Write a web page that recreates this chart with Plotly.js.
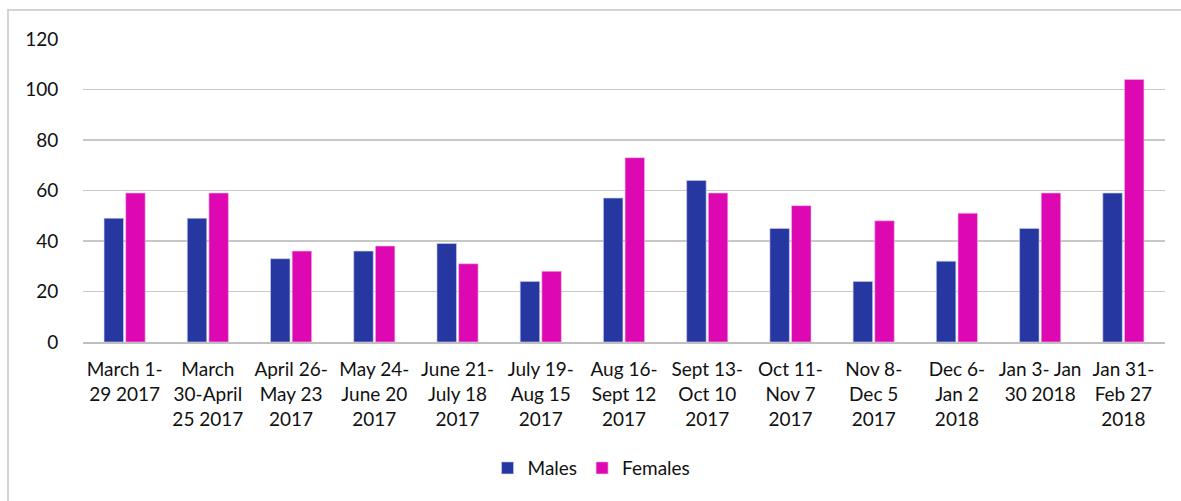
<!DOCTYPE html>
<html>
<head>
<meta charset="utf-8">
<script src="https://cdn.plot.ly/plotly-3.0.1.min.js"></script>
<style>
html,body{margin:0;padding:0;background:#fff;}
#wrap{position:relative;width:1181px;height:501px;}
#chart{position:absolute;left:0;top:0;width:1181px;height:501px;}
#frame{position:absolute;left:7px;top:9px;width:1174px;height:492px;border-left:2px solid #d4d4d4;border-top:2px solid #d4d4d4;pointer-events:none;}
</style>
</head>
<body>
<div id="wrap"><div id="chart"></div><div id="frame"></div></div>
<script>
const categories = [
  "March 1-<br>29 2017",
  "March<br>30-April<br>25 2017",
  "April 26-<br>May 23<br>2017",
  "May 24-<br>June 20<br>2017",
  "June 21-<br>July 18<br>2017",
  "July 19-<br>Aug 15<br>2017",
  "Aug 16-<br>Sept 12<br>2017",
  "Sept 13-<br>Oct 10<br>2017",
  "Oct 11-<br>Nov 7<br>2017",
  "Nov 8-<br>Dec 5<br>2017",
  "Dec 6-<br>Jan 2<br>2018",
  "Jan 3- Jan<br>30 2018",
  "Jan 31-<br>Feb 27<br>2018"
];
const males   = [49, 49, 33, 36, 39, 24, 57, 64, 45, 24, 32, 45, 59];
const females = [59, 59, 36, 38, 31, 28, 73, 59, 54, 48, 51, 59, 104];
const yTicks = [0, 20, 40, 60, 80, 100, 120];

const fontFam = "Lato, 'Open Sans', sans-serif";

const traces = [
  {type:'bar', name:'Males', x:categories, y:males,
   marker:{color:'#2737a2', line:{width:0.6, color:'#c9d0f0'}}},
  {type:'bar', name:'Females', x:categories, y:females,
   marker:{color:'#de08b2', line:{width:0.6, color:'#f4c0e8'}}}
];

const layout = {
  width:1181, height:501,
  margin:{l:83, r:16, t:39, b:159},
  paper_bgcolor:'#fff', plot_bgcolor:'#fff',
  barmode:'group', bargap:0.48, bargroupgap:0.1,
  font:{family:fontFam, size:19, color:'#1a1a1a'},
  xaxis:{
    type:'category', tickangle:0,
    showgrid:false, showline:true, linecolor:'#bfbfbf', linewidth:1.5,
    ticks:'outside', ticklen:10, tickcolor:'rgba(0,0,0,0)',
    tickfont:{family:fontFam, size:19, color:'#111'}
  },
  yaxis:{
    range:[0,120], tickvals:yTicks, ticktext:yTicks.map(String),
    showgrid:true, gridcolor:'#c8c8c8', gridwidth:1.5,
    zeroline:false, showline:false,
    ticks:'outside', ticklen:20, tickcolor:'rgba(0,0,0,0)',
    tickfont:{family:fontFam, size:19, color:'#111'}
  },
  showlegend:true,
  legend:{orientation:'h', x:0.47, xanchor:'center', y:-0.416, yanchor:'middle',
    font:{family:fontFam, size:19, color:'#111'}, itemwidth:30, traceorder:'normal'}
};

Plotly.newPlot('chart', traces, layout, {displayModeBar:false, staticPlot:true});
</script>
</body>
</html>
